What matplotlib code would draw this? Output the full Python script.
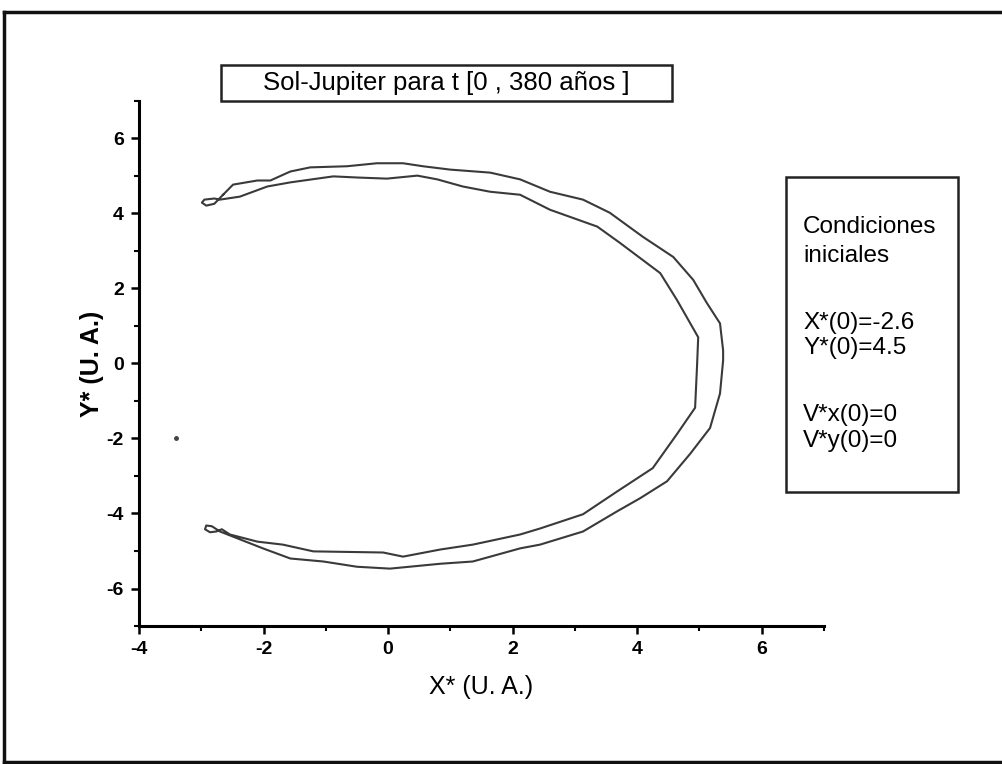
import matplotlib.pyplot as plt
from matplotlib.lines import Line2D
from matplotlib.patches import Rectangle
from matplotlib.ticker import MultipleLocator

plt.rcParams['font.family'] = ['Liberation Sans', 'DejaVu Sans']
plt.rcParams['axes.unicode_minus'] = False

# Datos: tira exterior, lazo inferior, tira interior, lazo superior
x_ext = [-2.65, -2.49, -2.10, -1.89, -1.57, -1.25, -0.66, -0.18, 0.24, 0.56, 1.00, 1.64,
         2.12, 2.60, 3.13, 3.56, 4.09, 4.58, 4.90, 5.12, 5.33, 5.38, 5.38, 5.33, 5.17,
         4.85, 4.48, 4.05, 3.68, 3.13, 2.44, 2.12, 1.36, 0.84, 0.03, -0.50, -1.04,
         -1.57, -2.01, -2.70]
y_ext = [4.50, 4.77, 4.88, 4.88, 5.12, 5.23, 5.26, 5.34, 5.34, 5.26, 5.17, 5.09,
         4.91, 4.58, 4.37, 4.02, 3.38, 2.84, 2.23, 1.61, 1.07, 0.35, 0.08, -0.80, -1.72,
         -2.41, -3.14, -3.59, -3.94, -4.48, -4.83, -4.93, -5.28, -5.34, -5.47, -5.42, -5.28,
         -5.20, -4.93, -4.48]

x_lazo_inf = [-2.83, -2.92, -2.94, -2.86, -2.76, -2.67]
y_lazo_inf = [-4.34, -4.32, -4.42, -4.50, -4.48, -4.42]

x_int = [-2.54, -2.10, -1.69, -1.20, -0.08, 0.24, 0.84, 1.36, 2.12, 2.44, 3.13, 3.68,
         4.25, 4.64, 4.93, 4.96, 4.98, 4.64, 4.37, 3.72, 3.36, 2.60, 2.12, 1.64, 1.20,
         0.79, 0.47, -0.02, -0.50, -0.88, -1.57, -1.94, -2.38, -2.70]
y_int = [-4.56, -4.75, -4.83, -5.01, -5.04, -5.15, -4.96, -4.83, -4.56, -4.40, -4.02, -3.41,
         -2.79, -1.88, -1.18, -0.11, 0.70, 1.69, 2.41, 3.22, 3.65, 4.10, 4.50, 4.58, 4.72,
         4.91, 5.01, 4.93, 4.96, 4.99, 4.83, 4.72, 4.45, 4.37]

x_lazo_sup = [-2.79, -2.95, -2.99, -2.92, -2.79, -2.65]
y_lazo_sup = [4.40, 4.37, 4.29, 4.21, 4.26, 4.50]

# punto suelto
x_pto = [-3.4]
y_pto = [-2.0]

x_orbita = x_ext + x_lazo_inf + x_int + x_lazo_sup
y_orbita = y_ext + y_lazo_inf + y_int + y_lazo_sup

fig = plt.figure(figsize=(10.03, 7.64), dpi=100)
ax = fig.add_axes([139 / 1003, 1 - 626 / 764, (824 - 139) / 1003, (626 - 101) / 764])

ax.plot(x_orbita, y_orbita, color='#3a3a3a', lw=1.5, solid_joinstyle='round')
ax.plot(x_pto, y_pto, 'o', color='#444444', ms=2.5)

ax.set_xlim(-4, 7)
ax.set_ylim(-7, 7)
ax.xaxis.set_minor_locator(MultipleLocator(1))
ax.yaxis.set_minor_locator(MultipleLocator(1))
ax.set_xticks([-4, -2, 0, 2, 4, 6])
ax.set_yticks([-6, -4, -2, 0, 2, 4, 6])

for s in ['top', 'right']:
    ax.spines[s].set_visible(False)
for s in ['left', 'bottom']:
    ax.spines[s].set_linewidth(2.2)

ax.tick_params(which='major', direction='out', length=6, width=1.8, pad=5, labelsize=14)
ax.tick_params(which='minor', direction='out', length=3.5, width=1.5)
for lab in ax.get_xticklabels() + ax.get_yticklabels():
    lab.set_fontweight('bold')

ax.set_xlabel('X* (U. A.)', fontsize=18, labelpad=12)
ax.set_ylabel('Y* (U. A.)', fontsize=18, fontweight='bold', labelpad=2)

# Recuadro del título
def fx(px):
    return px / 1003

def fy(py):
    return 1 - py / 764

fig.patches.append(Rectangle((fx(221), fy(101)), fx(672) - fx(221), fy(65) - fy(101),
                             transform=fig.transFigure, fill=False, lw=1.8, ec='#222222'))
fig.text(fx(446), fy(83), 'Sol-Jupiter para t [0 , 380 años ]', fontsize=18.5,
         ha='center', va='center')

# Recuadro de condiciones iniciales
fig.patches.append(Rectangle((fx(786), fy(492)), fx(958) - fx(786), fy(177) - fy(492),
                             transform=fig.transFigure, fill=False, lw=1.8, ec='#222222'))
lineas = [('Condiciones', 227), ('iniciales', 256), ('X*(0)=-2.6', 323),
          ('Y*(0)=4.5', 348), ('V*x(0)=0', 415), ('V*y(0)=0', 441)]
for txt, py in lineas:
    fig.text(fx(803), fy(py), txt, fontsize=17.5, ha='left', va='center')

# Marco exterior
for xs, ys in [([4, 1003], [12, 12]), ([4, 4], [12, 762]), ([4, 1003], [762, 762])]:
    fig.add_artist(Line2D([fx(v) for v in xs], [fy(v) for v in ys],
                          transform=fig.transFigure, color='#111111', lw=2.5))

fig.savefig('out.png', dpi=100)
